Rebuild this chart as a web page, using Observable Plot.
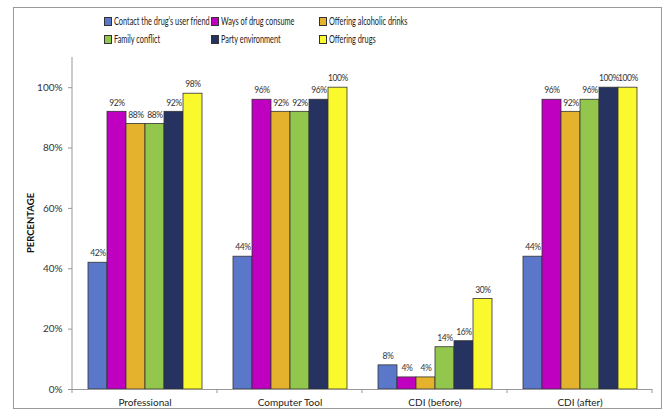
<!DOCTYPE html>
<html>
<head>
<meta charset="utf-8">
<script src="https://cdn.jsdelivr.net/npm/d3@7"></script>
<script src="https://cdn.jsdelivr.net/npm/@observablehq/plot@0.6"></script>
<style>
  body { margin: 0; background: #fff; }
  #wrap { position: relative; width: 667px; height: 414px; font-family: Lato, "DejaVu Sans", sans-serif; }
  #border { position: absolute; left: 13px; top: 7px; width: 649px; height: 402px; border: 1px solid #999; box-sizing: border-box; }
  #legend { position: absolute; left: 0; top: 0; font-size: 10.5px; color: #222; }
  #legend .item { position: absolute; white-space: nowrap; line-height: 12px; }
  #legend span.sw { display: inline-block; width: 6px; height: 7px; border: 1px solid #333; margin-right: 2px; vertical-align: -1px; }
  #legend span.tx { display: inline-block; transform: scaleX(0.7); transform-origin: 0 50%; }
  #chart { position: absolute; left: 0; top: 0; }
</style>
</head>
<body>
<div id="wrap">
  <div id="border"></div>
  <div id="chart"></div>
  <div id="legend"></div>
</div>
<script>
const categories = ["Professional", "Computer Tool", "CDI (before)", "CDI (after)"];
const series = ["Contact the drug's user friend", "Ways of drug consume", "Offering alcoholic drinks", "Family conflict", "Party environment", "Offering drugs"];
const legendLabels = ["Contact the drug\u2019s user friend", "Ways of drug consume", "Offering alcoholic drinks", "Family conflict", "Party environment", "Offering drugs"];
const colors = ["#5b77c9", "#c000c0", "#e4b22c", "#93c64c", "#26325f", "#f9f92e"];
const values = [
  [0.42, 0.92, 0.88, 0.88, 0.92, 0.98],
  [0.44, 0.96, 0.92, 0.92, 0.96, 1.00],
  [0.08, 0.04, 0.04, 0.14, 0.16, 0.30],
  [0.44, 0.96, 0.92, 0.96, 1.00, 1.00]
];
const yTicks = [0, 0.2, 0.4, 0.6, 0.8, 1.0];

const data = [];
categories.forEach((c, i) => series.forEach((s, j) => data.push({category: c, series: s, value: values[i][j]})));

// legend: 3 columns x 2 rows
const legendCols = [104, 211, 319];
const legendRows = [15, 33];
const leg = document.getElementById("legend");
series.forEach((s, j) => {
  const d = document.createElement("div");
  d.className = "item";
  d.style.left = legendCols[j % 3] + "px";
  d.style.top = legendRows[Math.floor(j / 3)] + "px";
  d.innerHTML = `<span class="sw" style="background:${colors[j]}"></span><span class="tx">${legendLabels[j]}</span>`;
  leg.appendChild(d);
});

const fmt = v => Math.round(v * 100) + "%";

const plot = Plot.plot({
  width: 667,
  height: 414,
  marginTop: 57,
  marginBottom: 25,
  marginLeft: 71,
  marginRight: 14,
  style: {fontFamily: "Lato, DejaVu Sans, sans-serif", fontSize: "10px", color: "#333", background: "transparent"},
  fx: {domain: categories, padding: 0, label: null},
  x: {domain: series, paddingInner: 0, paddingOuter: 0.75, axis: null},
  y: {domain: [0, 1.1], label: null},
  color: {domain: series, range: colors},
  marks: [
    Plot.barY(data, {fx: "category", x: "series", y: "value", fill: "series", stroke: "#333", strokeWidth: 0.8}),
    Plot.text(data, {fx: "category", x: "series", y: "value", text: d => fmt(d.value), dy: -9, fill: "#333", fontSize: 8.5}),
    Plot.ruleY([0], {stroke: "#999", strokeWidth: 1}),
    Plot.axisY({ticks: yTicks, tickFormat: fmt, tickSize: 4, tickPadding: 6, stroke: "#999", fill: "#333", fontSize: 10, label: null}),
    Plot.axisFx({anchor: "bottom", tickSize: 0, tickPadding: 9, fill: "#222", fontSize: 10, label: null})
  ]
});

document.getElementById("chart").appendChild(plot);

// y axis line, category boundary ticks and y label using the plot's scales
const svg = d3.select(plot);
svg.selectAll("g[aria-label='text'] text").style("letter-spacing", "-0.45px");
const fx = plot.scale("fx");
const y = plot.scale("y");
const y0 = y.apply(0);
const yTop = y.apply(1.1);
const bw = fx.bandwidth;
const bounds = categories.map(c => fx.apply(c)).concat([fx.apply(categories[categories.length - 1]) + bw]);
svg.append("line").attr("x1", bounds[0]).attr("x2", bounds[0]).attr("y1", yTop).attr("y2", y0).attr("stroke", "#999");
bounds.forEach(b => {
  svg.append("line").attr("x1", b).attr("x2", b).attr("y1", y0).attr("y2", y0 + 4).attr("stroke", "#999");
});
svg.append("text")
  .attr("transform", `translate(34,${y.apply(0.55)}) rotate(-90)`)
  .attr("text-anchor", "middle")
  .attr("font-weight", "bold")
  .attr("font-size", 9.5)
  .attr("fill", "#111")
  .text("PERCENTAGE");
</script>
</body>
</html>
